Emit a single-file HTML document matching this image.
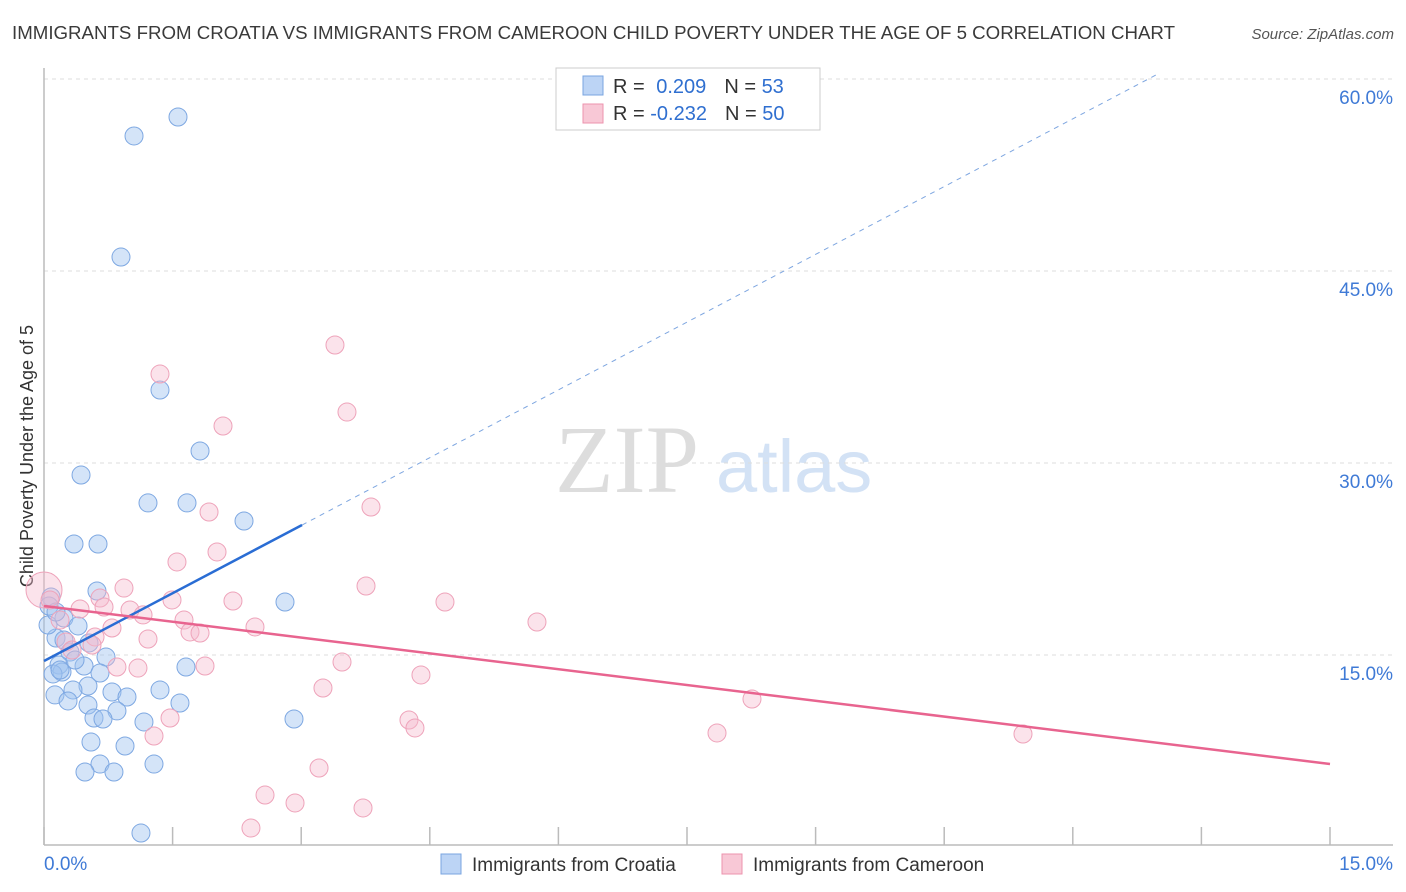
<!DOCTYPE html>
<html><head><meta charset="utf-8"><style>
body{margin:0;background:#fff;font-family:"Liberation Sans",sans-serif}
svg{display:block}
</style></head><body>
<svg id="chart" width="1406" height="892">
<text x="12" y="39" font-size="18" fill="#3a3a3a" textLength="1163" lengthAdjust="spacingAndGlyphs">IMMIGRANTS FROM CROATIA VS IMMIGRANTS FROM CAMEROON CHILD POVERTY UNDER THE AGE OF 5 CORRELATION CHART</text>
<text x="1394" y="39" font-size="15" fill="#555" font-style="italic" text-anchor="end">Source: ZipAtlas.com</text>
<text transform="translate(33,456) rotate(-90)" font-size="18" fill="#333" text-anchor="middle">Child Poverty Under the Age of 5</text>
<g>
<text x="555" y="492" font-family="Liberation Serif,serif" font-size="96" fill="#ddd">ZIP</text>
<text x="716" y="492" font-size="74" fill="#d3e2f5">atlas</text>
</g>
<g id="grid"></g><g id="axes"></g><g id="pts"></g><g id="lines"></g>
<g>
<rect x="556" y="68" width="264" height="62" fill="#fff" stroke="#ccc"/>
<rect x="583" y="76" width="20" height="19" fill="#bcd4f5" stroke="#7aa5e0"/>
<rect x="583" y="104" width="20" height="19" fill="#f8c8d6" stroke="#ec93ae"/>
<text x="613" y="93" font-size="20" fill="#333">R = <tspan fill="#2f6fd0" dx="6">0.209</tspan><tspan dx="18" fill="#333">N = </tspan><tspan fill="#2f6fd0">53</tspan></text>
<text x="613" y="120" font-size="20" fill="#333">R = <tspan fill="#2f6fd0" dx="0">-0.232</tspan><tspan dx="18" fill="#333">N = </tspan><tspan fill="#2f6fd0">50</tspan></text>
</g>
<g>
<rect x="441" y="854" width="20" height="20" fill="#bcd4f5" stroke="#7aa5e0"/>
<text x="472" y="871" font-size="19" fill="#333">Immigrants from Croatia</text>
<rect x="722" y="854" width="20" height="20" fill="#f8c8d6" stroke="#ec93ae"/>
<text x="753" y="871" font-size="19" fill="#333">Immigrants from Cameroon</text>
</g>
</svg>
<script>
const yTicks=[15,30,45,60];
const yTickLabels=["15.0%","30.0%","45.0%","60.0%"];
const xTicks=[0,1.5,3,4.5,6,7.5,9,10.5,12,13.5,15];
const croatiaX=[1.563,1.05,0.898,1.353,1.82,0.432,1.213,1.668,2.333,0.35,0.63,0.618,2.811,0.082,0.058,0.14,0.233,0.397,0.525,0.303,0.723,0.175,0.467,0.21,1.656,0.653,0.105,0.513,0.338,0.793,1.353,0.128,0.28,0.968,1.586,0.513,0.851,0.583,0.688,1.166,2.916,0.548,0.945,1.283,0.653,0.478,0.816,1.131,0.187,0.047,0.14,0.233,0.362];
const croatiaY=[57.03,55.55,46.09,35.7,30.94,29.06,26.88,26.88,25.47,23.67,23.67,20.0,19.14,19.53,18.83,16.33,17.89,17.27,15.94,15.23,14.84,14.22,14.14,13.67,14.06,13.59,13.52,12.58,12.27,12.11,12.27,11.88,11.41,11.72,11.25,11.09,10.63,10.08,10.0,9.77,10.0,8.2,7.89,6.48,6.48,5.86,5.86,1.09,13.83,17.34,18.36,16.17,14.61];
const cameroonX=[3.394,1.353,3.534,2.088,3.814,1.925,1.551,2.018,0.933,3.756,0,0.653,1.493,2.204,4.677,0.42,0.7,1.003,1.155,1.633,5.75,2.461,0.793,1.703,1.82,0.595,1.213,0.257,0.56,0.327,3.476,1.878,0.851,1.096,3.254,4.397,8.258,1.47,4.257,1.283,4.327,7.85,11.419,3.208,2.578,2.928,3.721,2.414,0.187,0.07];
const cameroonY=[39.22,36.95,33.98,32.89,26.56,26.17,22.27,23.05,20.23,20.39,20.08,19.45,19.3,19.22,19.14,18.59,18.75,18.52,18.13,17.73,17.58,17.19,17.11,16.8,16.72,16.41,16.25,16.02,15.78,15.39,14.45,14.14,14.06,13.98,12.42,13.44,11.56,10.08,9.92,8.67,9.3,8.91,8.83,6.17,4.06,3.44,3.05,1.48,17.73,19.3];
const cameroonWeight=[1,1,1,1,1,1,1,1,1,1,2,1,1,1,1,1,1,1,1,1,1,1,1,1,1,1,1,1,1,1,1,1,1,1,1,1,1,1,1,1,1,1,1,1,1,1,1,1,1,1];
const croatiaTrend=[14.53,3.53];
const croatiaTrendSolidEnd=3.01;
const croatiaTrendDashEnd=13.0;
const cameroonTrend=[18.83,-0.823];
const X0=44,X1=1330,Y0=847,YPX=192/15;
const sx=v=>X0+(X1-X0)*v/15, sy=v=>Y0-v*YPX;
const NS="http://www.w3.org/2000/svg";
function mk(parent,tag,attrs){const e=document.createElementNS(NS,tag);for(const k in attrs)e.setAttribute(k,attrs[k]);document.getElementById(parent).appendChild(e);return e;}
yTicks.forEach((t,i)=>{
  const g=mk('grid','line',{x1:44,x2:1393,y1:sy(t),y2:sy(t),stroke:'#ddd','stroke-dasharray':'4,4'});
  
  
  const l=mk('grid','text',{x:1393,y:sy(t)+25,'text-anchor':'end','font-size':19,fill:'#3f7ad6'});
  l.textContent=yTickLabels[i];
  
  
});
const ya=mk('axes','line',{x1:44,x2:44,y1:68,y2:845,stroke:'#bbb','stroke-width':1.5});


const xa=mk('axes','line',{x1:44,x2:1393,y1:845,y2:845,stroke:'#bbb','stroke-width':1.5});


xTicks.forEach(t=>{
  const k=mk('axes','line',{x1:sx(t),x2:sx(t),y1:827,y2:845,stroke:'#bbb','stroke-width':1.5});
  
  
});
const xl0=mk('axes','text',{x:44,y:870,'font-size':19,fill:'#3f7ad6'});xl0.textContent='0.0%';


const xl1=mk('axes','text',{x:1393,y:870,'font-size':19,fill:'#3f7ad6','text-anchor':'end'});xl1.textContent='15.0%';


croatiaX.forEach((v,i)=>{
  const c=mk('pts','circle',{cx:sx(v),cy:sy(croatiaY[i]),r:9,fill:'rgba(160,196,240,0.45)',stroke:'#7ea8e2','stroke-width':1});
  
  
});
cameroonX.forEach((v,i)=>{
  const c=mk('pts','circle',{cx:sx(v),cy:sy(cameroonY[i]),r:9*cameroonWeight[i],fill:'rgba(246,184,204,0.4)',stroke:'#eea3ba','stroke-width':1});
  
  
});
const ty=(tr,x)=>tr[0]+tr[1]*x;
const bl=mk('lines','line',{x1:sx(0),y1:sy(ty(croatiaTrend,0)),x2:sx(croatiaTrendSolidEnd),y2:sy(ty(croatiaTrend,croatiaTrendSolidEnd)),stroke:'#2a6dd4','stroke-width':2.5});


const bd=mk('lines','line',{x1:sx(croatiaTrendSolidEnd),y1:sy(ty(croatiaTrend,croatiaTrendSolidEnd)),x2:sx(croatiaTrendDashEnd),y2:sy(ty(croatiaTrend,croatiaTrendDashEnd)),stroke:'#7ea6e0','stroke-width':1,'stroke-dasharray':'5,5'});


const pl=mk('lines','line',{x1:sx(0),y1:sy(ty(cameroonTrend,0)),x2:sx(15),y2:sy(ty(cameroonTrend,15)),stroke:'#e8648f','stroke-width':2.5});


</script>
</body></html>
